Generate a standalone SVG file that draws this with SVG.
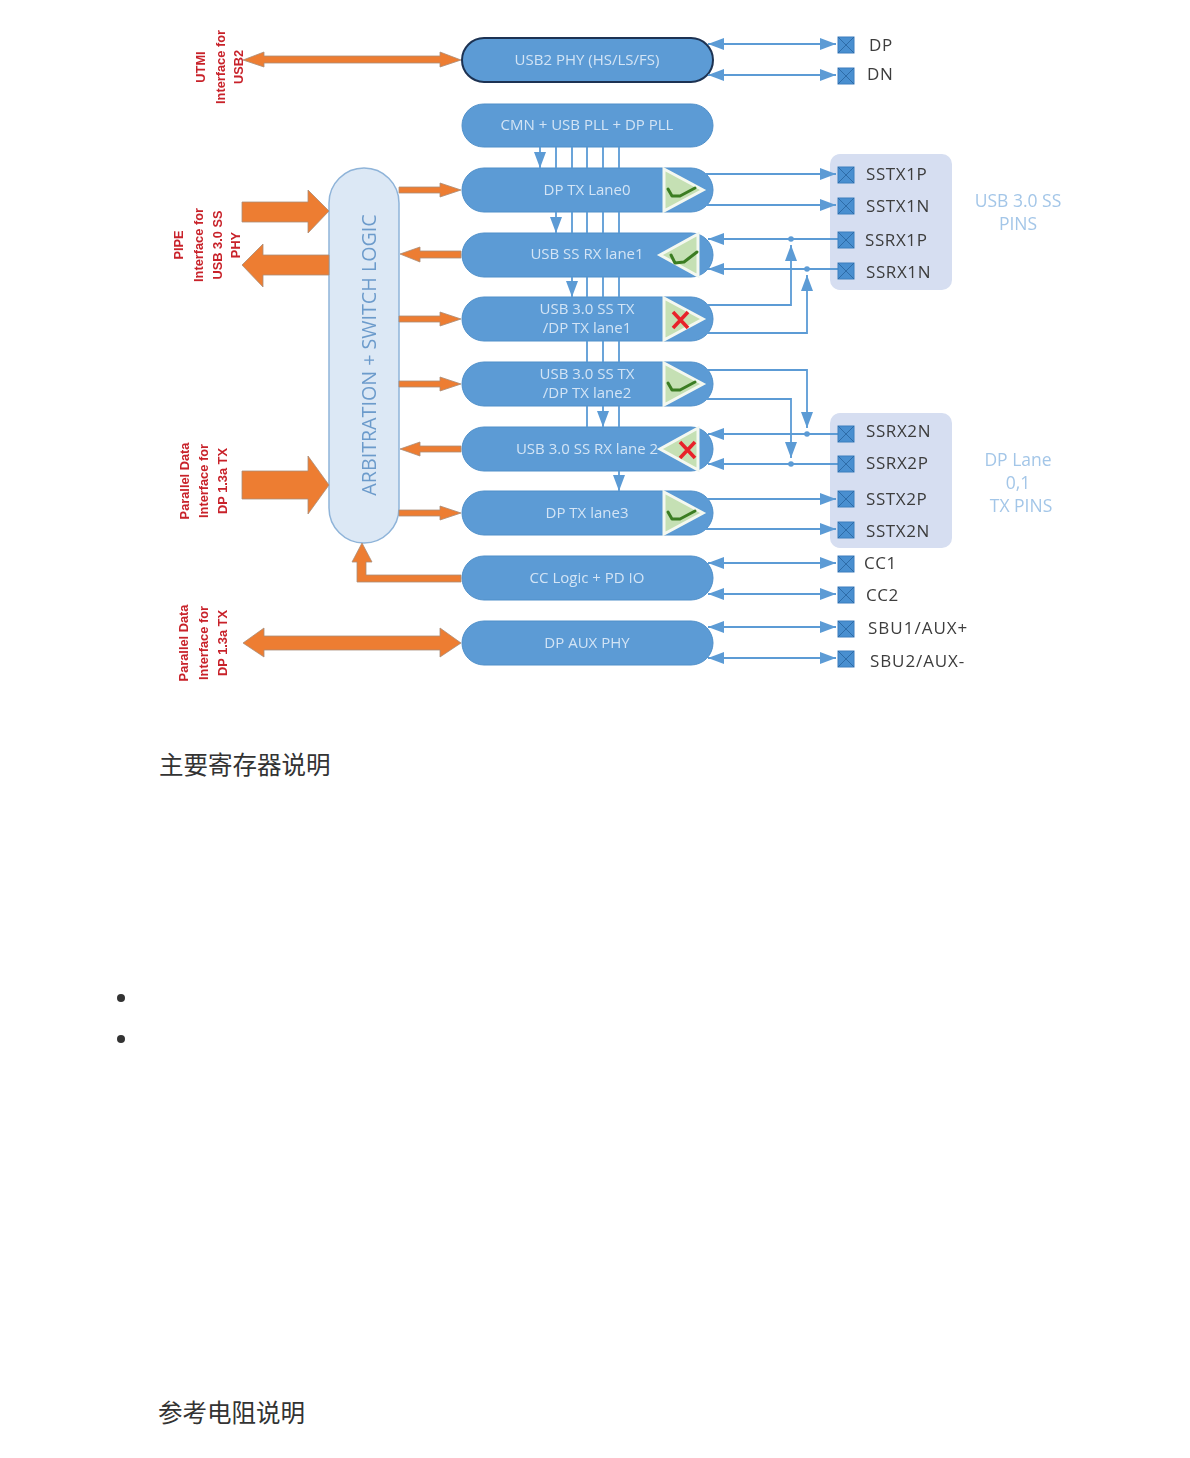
<svg xmlns="http://www.w3.org/2000/svg" xmlns:xlink="http://www.w3.org/1999/xlink" width="1190" height="1458" viewBox="0 0 1190 1458">
<style>
text{font-family:"Open Sans","Liberation Sans","Noto Sans CJK SC",sans-serif}
.pill{fill:#5b9bd5;stroke:#4f8fc9;stroke-width:1}
.pt{fill:#d3e4f5;font-size:15px;text-anchor:middle}
.pin{fill:#3c3c3c;font-size:17px;letter-spacing:.6px}
.blue{fill:#a3c6e8;font-size:17.5px;text-anchor:middle}
.red{fill:#c8222a;font-size:12.8px;font-weight:700;text-anchor:middle;font-family:"Liberation Sans",sans-serif}
.cn{fill:#333;font-size:24.5px;font-family:"Noto Sans CJK SC",sans-serif;font-weight:400}
.w{stroke:#5b9bd5;stroke-width:1.8;fill:none}
.a2{marker-start:url(#ah);marker-end:url(#ah)}
.a1{marker-end:url(#ah)}
.o{fill:#ed7d31;stroke:#a98d78;stroke-width:.8}
.tri{fill:#c5e0b4;stroke:#f4f8f0;stroke-width:3}
.ok{fill:none;stroke:#3b7d23;stroke-width:3;stroke-linejoin:round;stroke-linecap:round}
.no{fill:none;stroke:#e8242a;stroke-width:3.6}
.box{fill:#4a8fd0;stroke:#3d7fbe}
.boxx{stroke:#2f6ca8;stroke-width:1}
</style>
<defs>
<marker id="ah" markerUnits="userSpaceOnUse" markerWidth="16" markerHeight="12" viewBox="0 0 16 12" refX="16" refY="6" orient="auto-start-reverse"><path d="M0,0L16,6L0,12z" fill="#5b9bd5"/></marker>
<g id="sq"><rect class="box" x="-8" y="-8" width="16" height="16"/><path class="boxx" d="M-8,-8L8,8M8,-8L-8,8"/></g>
<g id="txok"><path class="tri" d="M664,-21L703,0L664,21z"/><path class="ok" d="M668,-1L672,6L680,6L695,-2"/></g>
<g id="rxok"><path class="tri" d="M698,-21L660,0L698,21z"/><path class="ok" d="M671,0L675,8L684,7L697,-3"/></g>
<filter id="soft" x="-2%" y="-2%" width="104%" height="104%"><feGaussianBlur stdDeviation="0.7"/></filter>
</defs>
<rect width="1190" height="1458" fill="#fff"/>
<g filter="url(#soft)">
<g id="panel-usb"><rect x="830" y="154" width="122" height="136" rx="10" fill="#d6def1"/></g>
<g id="panel-dp"><rect x="830" y="413" width="122" height="135" rx="10" fill="#d6def1"/></g>

<g id="arbitration"><rect x="329" y="168" width="70" height="375" rx="35" fill="#dce8f5" stroke="#8fb4d9" stroke-width="1.5"/><text transform="translate(376,355) rotate(-90)" text-anchor="middle" font-size="19.7" fill="#6c9bcb">ARBITRATION + SWITCH LOGIC</text></g>

<g id="usb2phy"><rect x="462" y="38" width="251" height="44" rx="22" fill="#5b9bd5" stroke="#1d3352" stroke-width="2"/><text class="pt" x="587" y="65">USB2 PHY (HS/LS/FS)</text></g>
<g id="cmn"><rect class="pill" x="462" y="104" width="251" height="43" rx="21.5"/><text class="pt" x="587" y="130">CMN + USB PLL + DP PLL</text></g>
<g id="lane0"><rect class="pill" x="462" y="168" width="251" height="44" rx="22"/><text class="pt" x="587" y="195">DP TX Lane0</text><use href="#txok" xlink:href="#txok" y="190"/></g>
<g id="lane1"><rect class="pill" x="462" y="233" width="251" height="44" rx="22"/><text class="pt" x="587" y="259">USB SS RX lane1</text><use href="#rxok" xlink:href="#rxok" y="255"/></g>
<g id="lane1tx"><rect class="pill" x="462" y="297" width="251" height="44" rx="22"/><text class="pt" x="587" y="314">USB 3.0 SS TX</text><text class="pt" x="587" y="333">/DP TX lane1</text><path class="tri" d="M664,298L703,319L664,340z"/><path class="no" d="M673,312L688,328M688,312L673,328"/></g>
<g id="lane2tx"><rect class="pill" x="462" y="362" width="251" height="44" rx="22"/><text class="pt" x="587" y="379">USB 3.0 SS TX</text><text class="pt" x="587" y="398">/DP TX lane2</text><use href="#txok" xlink:href="#txok" y="384"/></g>
<g id="lane2rx"><rect class="pill" x="462" y="427" width="251" height="44" rx="22"/><path class="tri" d="M698,428L660,449L698,470z"/><path class="no" d="M680,442L695,458M695,442L680,458"/><text class="pt" x="587" y="454">USB 3.0 SS RX lane 2</text></g>
<g id="lane3"><rect class="pill" x="462" y="491" width="251" height="44" rx="22"/><text class="pt" x="587" y="518">DP TX lane3</text><use href="#txok" xlink:href="#txok" y="513"/></g>
<g id="cclogic"><rect class="pill" x="462" y="556" width="251" height="44" rx="22"/><text class="pt" x="587" y="583">CC Logic + PD IO</text></g>
<g id="dpaux"><rect class="pill" x="462" y="621" width="251" height="44" rx="22"/><text class="pt" x="587" y="648">DP AUX PHY</text></g>

<g id="connectors">
<g class="w">
<path class="a2" d="M708,44H836"/><path class="a2" d="M708,75H836"/>
<path class="a1" d="M705,174H836"/><path class="a1" d="M705,205H836"/>
<path class="a1" d="M838,239H708"/><path class="a1" d="M838,269H708"/>
<path class="a1" d="M705,305H791V245"/><path class="a1" d="M705,333H807V275"/>
<path class="a1" d="M705,370H807V428"/><path class="a1" d="M705,399H791V458"/>
<path class="a1" d="M838,434H708"/><path class="a1" d="M838,464H708"/>
<path class="a1" d="M705,499H836"/><path class="a1" d="M705,529H836"/>
<path class="a2" d="M708,563H836"/><path class="a2" d="M708,594H836"/>
<path class="a2" d="M708,627H836"/><path class="a2" d="M708,658H836"/>
<path class="a1" d="M540,147V168"/><path d="M556,147V168M572,147V168M587,147V168M603,147V168M619,147V168"/>
<path class="a1" d="M556,212V233"/><path d="M572,212V233M587,212V233M603,212V233M619,212V233"/>
<path class="a1" d="M572,277V297"/><path d="M587,277V297M603,277V297M619,277V297"/>
<path d="M587,341V362M603,341V362M619,341V362"/>
<path class="a1" d="M603,406V427"/><path d="M587,406V427M619,406V427"/>
<path class="a1" d="M619,471V491"/>
</g>
<g fill="#5b9bd5"><circle cx="791" cy="239" r="2.8"/><circle cx="807" cy="269" r="2.8"/><circle cx="807" cy="434" r="2.8"/><circle cx="791" cy="464" r="2.8"/></g>
<g class="o">
<path d="M243,60L264,52V56H440V52L461,60L440,67V63H264V67z"/>
<path d="M242,202H308V190L329,211L308,233V222H242z"/>
<path d="M242,265L263,244V255H329V275H263V287z"/>
<path d="M242,471H308V456L329,485L308,514V499H242z"/>
<path d="M243,643L264,628V636H440V628L461,643L440,657V650H264V657z"/>
<path d="M399,187H440V183L461,190L440,197V193H399z"/>
<path d="M399,316H440V312L461,319L440,326V322H399z"/>
<path d="M399,381H440V377L461,384L440,391V387H399z"/>
<path d="M399,510H440V506L461,513L440,520V516H399z"/>
<path d="M400,254L420,247V251H461V258H420V262z"/>
<path d="M400,449L420,442V446H461V452H420V456z"/>
<path d="M461,575H366V562H372L362,543L352,562H357V582H461z"/>
</g>
</g>

<g id="pins">
<g id="pin-dp"><use href="#sq" xlink:href="#sq" x="846" y="45"/><text class="pin" x="869" y="51">DP</text></g>
<g id="pin-dn"><use href="#sq" xlink:href="#sq" x="846" y="76"/><text class="pin" x="867" y="80">DN</text></g>
<g id="pin-sstx1p"><use href="#sq" xlink:href="#sq" x="846" y="175"/><text class="pin" x="866" y="180">SSTX1P</text></g>
<g id="pin-sstx1n"><use href="#sq" xlink:href="#sq" x="846" y="206"/><text class="pin" x="866" y="212">SSTX1N</text></g>
<g id="pin-ssrx1p"><use href="#sq" xlink:href="#sq" x="846" y="240"/><text class="pin" x="865" y="246">SSRX1P</text></g>
<g id="pin-ssrx1n"><use href="#sq" xlink:href="#sq" x="846" y="271"/><text class="pin" x="866" y="278">SSRX1N</text></g>
<g id="pin-ssrx2n"><use href="#sq" xlink:href="#sq" x="846" y="434"/><text class="pin" x="866" y="437">SSRX2N</text></g>
<g id="pin-ssrx2p"><use href="#sq" xlink:href="#sq" x="846" y="464"/><text class="pin" x="866" y="469">SSRX2P</text></g>
<g id="pin-sstx2p"><use href="#sq" xlink:href="#sq" x="846" y="499"/><text class="pin" x="866" y="505">SSTX2P</text></g>
<g id="pin-sstx2n"><use href="#sq" xlink:href="#sq" x="846" y="530"/><text class="pin" x="866" y="537">SSTX2N</text></g>
<g id="pin-cc1"><use href="#sq" xlink:href="#sq" x="846" y="564"/><text class="pin" x="864" y="569">CC1</text></g>
<g id="pin-cc2"><use href="#sq" xlink:href="#sq" x="846" y="595"/><text class="pin" x="866" y="601">CC2</text></g>
<g id="pin-sbu1"><use href="#sq" xlink:href="#sq" x="846" y="629"/><text class="pin" x="868" y="634" style="letter-spacing:1px">SBU1/AUX+</text></g>
<g id="pin-sbu2"><use href="#sq" xlink:href="#sq" x="846" y="659"/><text class="pin" x="870" y="667" style="letter-spacing:.9px">SBU2/AUX-</text></g>
</g>

<g id="labels">
<text class="blue" x="1018" y="207">USB 3.0 SS</text><text class="blue" x="1018" y="230">PINS</text>
<text class="blue" x="1018" y="466">DP Lane</text><text class="blue" x="1018" y="489">0,1</text><text class="blue" x="1021" y="512">TX PINS</text>
<text class="red" transform="translate(205,67) rotate(-90)">UTMI</text>
<text class="red" transform="translate(225,67) rotate(-90)">Interface for</text>
<text class="red" transform="translate(243,67) rotate(-90)">USB2</text>
<text class="red" transform="translate(183,245) rotate(-90)">PIPE</text>
<text class="red" transform="translate(203,245) rotate(-90)">Interface for</text>
<text class="red" transform="translate(222,245) rotate(-90)">USB 3.0 SS</text>
<text class="red" transform="translate(240,245) rotate(-90)">PHY</text>
<text class="red" transform="translate(189,481) rotate(-90)">Parallel Data</text>
<text class="red" transform="translate(208,481) rotate(-90)">Interface for</text>
<text class="red" transform="translate(227,481) rotate(-90)">DP 1.3a TX</text>
<text class="red" transform="translate(188,643) rotate(-90)">Parallel Data</text>
<text class="red" transform="translate(208,643) rotate(-90)">Interface for</text>
<text class="red" transform="translate(227,643) rotate(-90)">DP 1.3a TX</text>
</g>
</g>
<text class="cn" x="159" y="774">主要寄存器说明</text>
<circle cx="121" cy="998" r="4" fill="#333"/>
<circle cx="121" cy="1039" r="4" fill="#333"/>
<text class="cn" x="158" y="1422">参考电阻说明</text>
</svg>
